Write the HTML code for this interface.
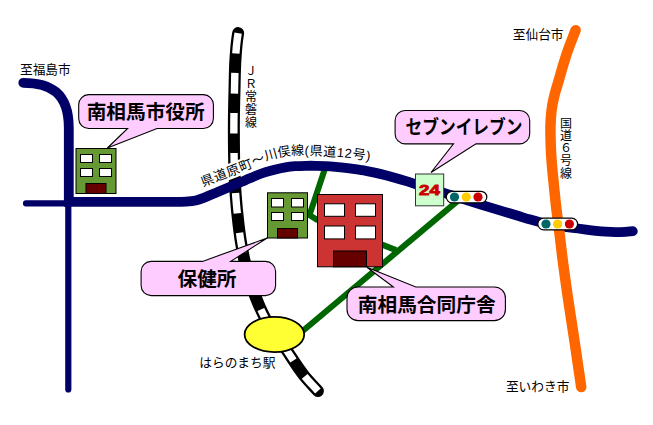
<!DOCTYPE html>
<html lang="ja"><head><meta charset="utf-8"><title>map</title>
<style>html,body{margin:0;padding:0;background:#fff;font-family:"Liberation Sans",sans-serif}svg{display:block}</style></head>
<body>
<svg width="653" height="425" viewBox="0 0 653 425">
<rect width="653" height="425" fill="#fff"/>
<path d="M238.15,33.10C237.83,35.23 237.49,37.36 237.20,39.50C236.29,46.30 235.84,53.15 235.40,60.00C234.76,69.98 234.75,80.00 234.50,90.00C234.25,100.00 233.98,110.00 233.90,120.00C233.82,130.00 233.87,140.00 234.00,150.00C234.09,156.67 234.17,163.34 234.40,170.00C234.69,178.44 235.09,186.88 235.70,195.30C236.42,205.22 237.40,215.13 238.60,225.00C239.26,230.44 239.93,235.89 240.80,241.30C241.82,247.63 242.98,253.95 244.40,260.20C247.17,272.35 250.70,284.38 255.20,296.00C257.94,303.07 260.91,310.07 264.40,316.80C270.52,328.60 279.05,338.99 286.50,350.00C292.28,358.54 297.53,367.48 304.00,375.50C308.36,380.90 313.27,385.83 317.90,391.00" fill="none" stroke="#000" stroke-width="12" stroke-linecap="round"/>
<path d="M238.15,33.10C237.83,35.23 237.49,37.36 237.20,39.50C236.29,46.30 235.84,53.15 235.40,60.00C234.76,69.98 234.75,80.00 234.50,90.00C234.25,100.00 233.98,110.00 233.90,120.00C233.82,130.00 233.87,140.00 234.00,150.00C234.09,156.67 234.17,163.34 234.40,170.00C234.69,178.44 235.09,186.88 235.70,195.30C236.42,205.22 237.40,215.13 238.60,225.00C239.26,230.44 239.93,235.89 240.80,241.30C241.82,247.63 242.98,253.95 244.40,260.20C247.17,272.35 250.70,284.38 255.20,296.00C257.94,303.07 260.91,310.07 264.40,316.80C270.52,328.60 279.05,338.99 286.50,350.00C292.28,358.54 297.53,367.48 304.00,375.50C308.36,380.90 313.27,385.83 317.90,391.00" fill="none" stroke="#fff" stroke-width="7.4" stroke-dasharray="20.6 19.4" stroke-dashoffset="0"/>
<path id="roadlbl" d="M199.50,183.00C202.57,181.87 205.64,180.75 208.70,179.60C212.95,178.00 217.16,176.32 221.40,174.70C225.36,173.19 229.35,171.73 233.30,170.20C237.41,168.60 241.51,166.96 245.60,165.30C253.89,161.93 261.70,157.26 270.30,154.80C274.60,153.57 278.99,152.62 283.40,151.90C287.67,151.20 291.98,150.73 296.30,150.50C300.33,150.29 304.37,150.36 308.40,150.50C311.67,150.61 314.93,150.91 318.20,151.10C322.80,151.36 327.40,151.49 332.00,151.80C335.64,152.05 339.27,152.39 342.90,152.70C346.00,152.96 349.11,153.16 352.20,153.50C356.08,153.92 359.94,154.53 363.80,155.10C367.17,155.60 370.55,156.06 373.90,156.70C375.94,157.09 377.97,157.57 380.00,158.00" fill="none" stroke="#fff" stroke-width="15.5"/>
<text dy="4.6" font-family="'Liberation Sans', 'Noto Sans CJK JP', sans-serif" font-size="13" fill="#000" textLength="175" lengthAdjust="spacing"><textPath href="#roadlbl" startOffset="2">県道原町～川俣線(県道12号)</textPath></text>
<path d="M458,200.6 L300,333.3" fill="none" stroke="#006600" stroke-width="6"/>
<path d="M324.5,170 L309.5,215 L318,220.5" fill="none" stroke="#006600" stroke-width="6" stroke-linejoin="miter"/>
<path d="M382,244.6 L396,250.1" fill="none" stroke="#006600" stroke-width="6"/>
<path d="M26,203.4 L68,203.4" fill="none" stroke="#000066" stroke-width="6.1" stroke-linecap="round"/>
<path d="M68.3,203 L68.3,389.5" fill="none" stroke="#000066" stroke-width="6.2" stroke-linecap="round"/>
<path d="M23.3,82.8 C50,82.8 68.8,92.5 68.8,128 L68.8,201.9 L176,201.8C179.33,201.77 182.67,201.92 186.00,201.70C189.28,201.48 192.59,201.24 195.80,200.50C199.17,199.73 202.37,198.34 205.60,197.10C208.95,195.81 212.20,194.30 215.50,192.90C218.80,191.50 222.09,190.09 225.40,188.70C228.69,187.32 232.02,186.01 235.30,184.60C238.85,183.08 242.35,181.44 245.90,179.90C249.19,178.47 252.46,177.00 255.80,175.70C259.03,174.44 262.30,173.26 265.60,172.20C268.87,171.16 272.17,170.22 275.50,169.40C278.78,168.59 282.07,167.84 285.40,167.30C288.68,166.77 291.99,166.45 295.30,166.20C298.83,165.93 302.36,165.86 305.90,165.80C309.20,165.74 312.50,165.75 315.80,165.80C319.07,165.85 322.34,165.94 325.60,166.10C328.90,166.27 332.20,166.52 335.50,166.80C338.80,167.08 342.11,167.40 345.40,167.80C348.71,168.20 352.00,168.70 355.30,169.20C358.84,169.73 362.38,170.26 365.90,170.90C369.21,171.50 372.51,172.17 375.80,172.90C379.08,173.63 382.34,174.46 385.60,175.30C388.91,176.16 392.21,177.07 395.50,178.00C398.81,178.94 402.11,179.90 405.40,180.90C408.71,181.90 412.00,182.97 415.30,184.00C424.86,186.99 434.44,189.91 444.00,192.90C459.32,197.68 474.55,202.71 489.90,207.40C493.20,208.41 496.50,209.41 499.80,210.40C503.06,211.38 506.34,212.32 509.60,213.30C512.90,214.29 516.20,215.30 519.50,216.30C522.80,217.30 526.09,218.35 529.40,219.30C532.69,220.25 535.98,221.18 539.30,222.00C545.47,223.53 551.73,224.73 558.00,225.80C564.63,226.93 571.34,227.58 578.00,228.50C580.63,228.86 583.26,229.25 585.90,229.60C589.20,230.03 592.49,230.45 595.80,230.80C599.06,231.15 602.33,231.48 605.60,231.70C608.90,231.92 612.20,232.08 615.50,232.10C618.80,232.12 622.10,232.00 625.40,231.80C627.87,231.65 630.33,231.40 632.80,231.20" fill="none" stroke="#000066" stroke-width="9.8" stroke-linecap="round" stroke-linejoin="miter"/>
<path d="M575.60,30.20C573.07,36.83 570.36,43.40 568.00,50.10C564.08,61.24 561.01,72.66 557.70,84.00C556.62,87.70 555.42,91.36 554.50,95.10C553.28,100.04 552.27,105.05 551.60,110.10C550.94,115.10 550.67,120.16 550.50,125.20C550.34,130.20 550.48,135.20 550.60,140.20C550.72,145.17 550.90,150.14 551.20,155.10C551.50,160.11 551.95,165.10 552.40,170.10C552.85,175.14 553.40,180.17 553.90,185.20C554.40,190.20 554.87,195.20 555.40,200.20C556.78,213.16 558.68,226.06 560.20,239.00C560.71,243.33 561.18,247.67 561.70,252.00C563.22,264.69 565.01,277.35 566.80,290.00C569.11,306.36 571.78,322.66 574.20,339.00C576.57,354.99 578.87,371.00 581.20,387.00" fill="none" stroke="#FF6600" stroke-width="10.5" stroke-linecap="round"/>
<rect x="76" y="148.5" width="40" height="45" fill="#669933" stroke="#000" stroke-width="1"/><rect x="80.5" y="154.5" width="12" height="8" fill="#fff" stroke="#000" stroke-width="1"/><rect x="99.5" y="154.5" width="12" height="8" fill="#fff" stroke="#000" stroke-width="1"/><rect x="80.5" y="168.5" width="12" height="8" fill="#fff" stroke="#000" stroke-width="1"/><rect x="99.5" y="168.5" width="12" height="8" fill="#fff" stroke="#000" stroke-width="1"/><rect x="86" y="183.5" width="20" height="10" fill="#660000" stroke="#000" stroke-width="1"/>
<rect x="267.5" y="192.8" width="40" height="45.2" fill="#669933" stroke="#000" stroke-width="1"/><rect x="271.5" y="198.5" width="12" height="8.5" fill="#fff" stroke="#000" stroke-width="1"/><rect x="291.5" y="198.5" width="12" height="8.5" fill="#fff" stroke="#000" stroke-width="1"/><rect x="271.5" y="212.5" width="12" height="8" fill="#fff" stroke="#000" stroke-width="1"/><rect x="291.5" y="212.5" width="12" height="8" fill="#fff" stroke="#000" stroke-width="1"/><rect x="277.5" y="228.5" width="20" height="9.5" fill="#660000" stroke="#000" stroke-width="1"/>
<rect x="317.5" y="194.5" width="65" height="72.3" fill="#CC3333" stroke="#000" stroke-width="1"/><rect x="324.5" y="203.8" width="20" height="12.5" fill="#fff" stroke="#000" stroke-width="1"/><rect x="355.5" y="203.8" width="20" height="12.5" fill="#fff" stroke="#000" stroke-width="1"/><rect x="324.5" y="226" width="20" height="12.9" fill="#fff" stroke="#000" stroke-width="1"/><rect x="355.5" y="226" width="20" height="12.9" fill="#fff" stroke="#000" stroke-width="1"/><rect x="333.5" y="251" width="33" height="15.8" fill="#660000" stroke="#000" stroke-width="1"/>
<rect x="415.5" y="174" width="28.2" height="31.8" fill="#CCFFCC" stroke="#333" stroke-width="1"/>
<text x="0" y="195.5" text-anchor="middle" font-family="'Liberation Sans', sans-serif" font-weight="bold" font-size="15" fill="#CC0000" stroke="#CC0000" stroke-width="0.9" transform="translate(429.5 0) scale(1.25 1)">24</text>
<rect x="446.3" y="191.3" width="40.5" height="11.5" rx="5.75" ry="5.75" fill="#fff" stroke="#000" stroke-width="1.2"/><circle cx="454.5" cy="197" r="4.6" fill="#006666"/><circle cx="466.2" cy="197" r="4.6" fill="#FFCC00"/><circle cx="478" cy="197" r="4.6" fill="#CC0000"/>
<rect x="537.8" y="218.1" width="39.8" height="11.7" rx="5.85" ry="5.85" fill="#fff" stroke="#000" stroke-width="1.2"/><circle cx="546" cy="224" r="4.6" fill="#006666"/><circle cx="557.6" cy="224" r="4.6" fill="#FFCC00"/><circle cx="569.4" cy="224" r="4.6" fill="#CC0000"/>
<ellipse cx="274.4" cy="334.5" rx="29.8" ry="17.6" fill="#FFFF33" stroke="#000" stroke-width="1.8"/>
<path d="M88.70,94.60L203.40,94.60 A10,10 0 0 1 213.40,104.60L213.40,118.50 A10,10 0 0 1 203.40,128.50L157.00,128.50 L107.40,148.00 L127.60,128.50L88.70,128.50 A10,10 0 0 1 78.70,118.50L78.70,104.60 A10,10 0 0 1 88.70,94.60 Z" fill="#FFCCFF" stroke="#000" stroke-width="1.1" stroke-linejoin="miter"/>
<path d="M405.10,110.50L519.70,110.50 A10,10 0 0 1 529.70,120.50L529.70,133.90 A10,10 0 0 1 519.70,143.90L476.00,143.90 L431.00,172.50 L453.50,143.90L405.10,143.90 A10,10 0 0 1 395.10,133.90L395.10,120.50 A10,10 0 0 1 405.10,110.50 Z" fill="#FFCCFF" stroke="#000" stroke-width="1.1" stroke-linejoin="miter"/>
<path d="M151.10,261.40L202.50,261.40 L267.20,238.00 L230.70,261.40L265.60,261.40 A10,10 0 0 1 275.60,271.40L275.60,285.60 A10,10 0 0 1 265.60,295.60L151.10,295.60 A10,10 0 0 1 141.10,285.60L141.10,271.40 A10,10 0 0 1 151.10,261.40 Z" fill="#FFCCFF" stroke="#000" stroke-width="1.1" stroke-linejoin="miter"/>
<path d="M358.00,287.00L393.40,287.00 L366.90,267.20 L415.80,287.00L494.40,287.00 A11,11 0 0 1 505.40,298.00L505.40,309.60 A11,11 0 0 1 494.40,320.60L358.00,320.60 A11,11 0 0 1 347.00,309.60L347.00,298.00 A11,11 0 0 1 358.00,287.00 Z" fill="#FFCCFF" stroke="#000" stroke-width="1.1" stroke-linejoin="miter"/>
<g font-family="'Liberation Sans', 'Noto Sans CJK JP', sans-serif" font-weight="bold" font-size="19.7" fill="#000" text-anchor="middle">
<text x="145.7" y="118.8">南相馬市役所</text>
<text x="464" y="134" textLength="117" lengthAdjust="spacingAndGlyphs">セブンイレブン</text>
<text x="207" y="285.8">保健所</text>
<text x="426.7" y="311.5">南相馬合同庁舎</text>
</g>
<g font-family="'Liberation Sans', 'Noto Sans CJK JP', sans-serif" font-size="12.7" fill="#000">
<text x="20" y="74">至福島市</text>
<text x="512.8" y="39.4">至仙台市</text>
<text x="505.9" y="391.2">至いわき市</text>
<text x="199.3" y="367.4">はらのまち駅</text>
<text font-size="12" text-anchor="middle"><tspan x="251" y="74.7">Ｊ</tspan><tspan x="251" y="87.5">Ｒ</tspan><tspan x="251" y="101.4">常</tspan><tspan x="251" y="114.3">磐</tspan><tspan x="251" y="127.2">線</tspan></text>
<text font-size="12" text-anchor="middle"><tspan x="566" y="127.5">国</tspan><tspan x="566" y="140">道</tspan><tspan x="566" y="152">６</tspan><tspan x="566" y="165.2">号</tspan><tspan x="566" y="177.9">線</tspan></text>
</g>
</svg>
</body></html>
